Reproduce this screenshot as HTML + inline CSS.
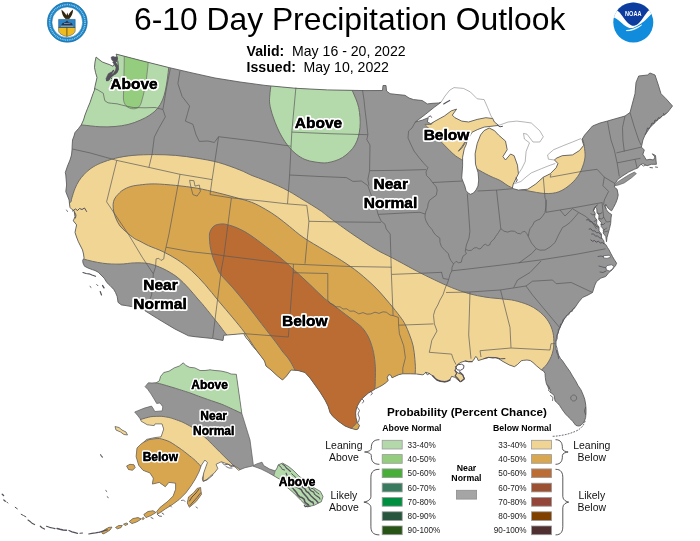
<!DOCTYPE html>
<html><head><meta charset="utf-8"><title>6-10 Day Precipitation Outlook</title>
<style>html,body{margin:0;padding:0;background:#fff}svg{display:block;will-change:transform}text{font-family:"Liberation Sans",sans-serif}.lb{font-weight:bold;font-size:15.5px;fill:#000;stroke:#fff;stroke-width:4px;paint-order:stroke;stroke-linejoin:round;text-anchor:middle}.la{font-weight:bold;font-size:12px;fill:#000;stroke:#fff;stroke-width:3.3px;paint-order:stroke;stroke-linejoin:round;text-anchor:middle}.lb2{font-weight:bold;font-size:15.5px;fill:#000;stroke:#000;stroke-width:.35px;text-anchor:middle}.la2{font-weight:bold;font-size:12px;fill:#000;stroke:#000;stroke-width:.3px;text-anchor:middle}.st{fill:none;stroke:#5a5a5a;stroke-width:.7;stroke-linejoin:round}.rb{fill:none;stroke:#6f6d6b;stroke-width:.7}</style></head><body>
<svg width="700" height="541" viewBox="0 0 700 541">
<rect width="700" height="541" fill="#fff"/>
<defs>
<clipPath id="us"><path d="M96.1,57 L99,59.5 L102.2,61.9 L106,63.4 L109.3,64.5 L113,66.3 L114.8,63.5 L116.8,61 L117.4,57.7 L116.1,54.1 L140,60.3 L168.7,67.5 L192,72.9 L215,78 L240,82 L265,85.4 L296,88.3 L327.5,89.9 L365,90.6 L382.5,90.5 L383,85.5 L386,85.5 L386.5,91 L390,93.7 L397,94.5 L405,95.3 L409,98 L413.6,99.6 L422.2,100.5 L427.3,103.9 L433,103.3 L438.5,103 L441.1,102.2 L434.2,107.3 L425.6,114.2 L418.8,119.4 L415.3,122 L422.2,120.2 L428.2,117.7 L427.3,122 L430.8,123.7 L435.1,121.1 L444.5,115.9 L451.4,110.8 L456.6,109.1 L452.3,115.1 L454.9,117.7 L461.7,121.1 L468.6,122 L477.2,119.4 L485.8,117.7 L492.7,118.5 L494.4,122 L498.7,125.4 L491,126.3 L484.1,127.1 L477.2,129.7 L472,132.3 L469.5,136.6 L465.2,141.7 L461.7,146.9 L458.3,151.2 L461.5,148.5 L465.5,142.5 L467.5,139.5 L466,145 L464.3,148.6 L462.6,157.2 L462.6,165.8 L461.7,178 L462.8,181 L464.8,186 L466,190.5 L468,193 L470.5,194.3 L473.5,193 L476,190 L478,186 L478.7,180 L478.1,172.7 L475.5,164.1 L475.1,153.8 L477.2,143.5 L480.6,134.9 L484.1,130.6 L489.2,128 L494.4,130.6 L498.6,135.1 L505.5,141.1 L507.2,149.7 L502.9,156.6 L505.5,160 L510.6,154 L514.1,155.7 L517.5,165.2 L518.4,173.8 L515.8,178.9 L513.2,184.1 L512.3,188.4 L518.4,190.1 L527.8,189.2 L535.6,184.1 L543.3,177.2 L550.2,173.8 L556.2,167.7 L557.9,163.5 L554.5,160 L556.2,158.3 L562.2,155.7 L572.5,154.9 L579.4,150.6 L583.7,145.4 L582,139.4 L584.6,135.1 L592.5,126 L600,123 L607.5,121 L625,116 L630,112.5 L632,105 L635,93.7 L636,82.5 L638.7,76 L647.5,75 L650,73 L655,75 L658,84 L661,93.7 L666,98.7 L672.5,106 L667.5,112.5 L662,116 L657.5,120 L650,127.5 L645,135 L642.9,140 L641.4,147.1 L644.3,150 L642.9,154.3 L646.4,160 L650,159.3 L653.5,160 L655,157 L652.3,153.8 L655.5,155.5 L656.4,164.3 L651.4,164.3 L647.1,165.7 L642.9,163.6 L640,165 L637.9,167.9 L634.3,169.3 L628.6,172.1 L622.9,175.7 L617.9,179.3 L615,183.6 L614.3,187.1 L617.1,189.3 L618.2,195 L617.3,199 L615.7,203.3 L613.5,207.5 L611.6,210.8 L609.5,209.5 L607.3,207 L605.8,204.3 L605.2,206.5 L606.3,209.5 L608,212 L610,213.5 L611.6,214.5 L611,218 L610.7,223.3 L609.5,228.5 L608.2,233.2 L607,237.5 L606.5,241.8 L605.8,236.5 L603.2,233 L603.8,229.5 L601.2,226.5 L601.3,222.5 L598.8,219.5 L599,215 L597,212.5 L596.8,208.8 L595.2,207.2 L593.6,210.5 L595.2,213.5 L594.6,217 L596.8,220 L596.6,224 L599,227 L599,231 L601.4,234 L601.6,238 L603.6,240.5 L604.3,243.5 L605.7,244.5 L607.5,247.5 L609.1,250 L610.7,253.2 L612.5,256.5 L614.1,259.3 L616.6,263.2 L615.5,265.7 L614.1,267.3 L612,270 L609.1,272.3 L605.7,276.5 L600.8,278.1 L596.6,281.5 L594.9,285 L592.5,292.5 L588,295 L582.5,297.5 L578.7,302 L575,307.5 L570,312 L565,317.5 L560,327.5 L557.5,334 L556,340 L556,350 L557.5,350.5 L558.5,355 L560.5,358.5 L562.5,360.8 L566,366 L569.9,371.4 L572.5,376 L575.5,380.7 L578,385.5 L581,389.9 L583,394.5 L584.7,399.1 L585.6,404 L586,408.4 L586,413 L585.6,417.6 L584.5,421 L582.8,423.4 L581,425.2 L579.1,426 L577,425.8 L575.5,425 L572.7,421.3 L570.5,419 L568.1,416.7 L565.5,414 L563.4,411.2 L561.5,408.5 L559.7,405.6 L557.5,403 L555.1,401 L554.5,398 L554.2,395.5 L552,393.5 L549.6,391.8 L550.6,389.5 L548.5,388.5 L547.7,386.2 L546.5,384 L545.9,381.6 L545.3,377.5 L545,373.3 L543.5,371 L541.3,369.8 L536.6,365.9 L533,362.5 L530.2,360.5 L527,360 L523.7,360.3 L521.3,360.8 L517.5,364.5 L514.4,366.7 L509.2,364.9 L503,361.5 L498.9,358.9 L495,357.5 L488.6,357.4 L484,358.8 L480,360 L478.2,360.5 L477,357.5 L475.6,356.6 L474.3,359 L472.2,361.6 L468.5,361.5 L465.3,361 L461,362.3 L457.6,364.4 L456,367.5 L455,370.4 L458,373 L462.7,374.7 L464.5,379 L460.2,381.8 L457,379.2 L455,377.3 L451.6,376.4 L449.9,379.9 L447.5,381.2 L444.7,381.8 L440.5,381.2 L437,380 L434.5,377.7 L432.7,375.8 L429,373.4 L425.8,372.3 L424,374.3 L422.3,374.8 L416.6,374 L410.3,373.8 L402.8,373.8 L399,374.6 L396,375.9 L392,377.8 L390.8,375.2 L388.8,374.6 L387.2,377.5 L388.2,380.5 L385.5,383 L382.2,385.3 L378.5,387.3 L375.3,388.8 L372,391 L368.4,393.1 L365,396 L361.6,399.1 L359.3,402.5 L357.3,406 L356.2,409.5 L355.6,413 L356,418 L357.5,423 L359.5,425.5 L358,429 L356,429.7 L350,428 L345,426 L338,421 L332.5,416 L330,412.5 L328,406 L325,400 L320,392 L315,385 L310,378 L305,372.5 L298,370.5 L291,370 L286.5,376 L282.5,380 L277.5,376 L271,370 L266,366 L264.5,361 L260.8,356 L256.5,350.5 L252.2,345.6 L249,341 L246.2,337.9 L243.6,333.6 L223.8,335.3 L223,340.5 L212.5,338.5 L195,336.7 L188.5,335.8 L174.7,328.9 L157.5,318.6 L143.8,310 L137,307.8 L131.7,306.6 L126,305.6 L121.4,304.9 L118,302.3 L117.6,299 L117.1,296.3 L115.5,292.5 L113.7,289.4 L110,285.5 L106.8,282.5 L104.2,278.2 L101,275 L98.2,272.2 L95,270.5 L92.2,269.6 L88,268 L84.5,266.2 L83,263 L82.7,260.2 L84.1,258.2 L83.5,254 L82.5,249.9 L80.5,246 L78.3,241.6 L76.5,237 L75,232.4 L75.8,228.5 L76.6,224.9 L73.3,220.8 L75,216.6 L74.1,210.8 L72,209.5 L70,207.4 L69.5,204 L69.1,200 L67.5,196 L65.8,191.6 L66.6,185 L65.8,175 L65.3,172.5 L67.5,166 L70,160 L71.5,155 L72,150 L72.2,145 L72.5,140 L74,136 L75,132.5 L78.5,128.5 L81.2,125 L83.5,120 L85,115 L87.5,108.5 L90,102.5 L91.5,98 L93,93.7 L94.5,90 L95,86.2 L96,82 L97,77.5 L95.5,72.5 L94.5,67.5 L95,62Z"/><path d="M615.7,183.6 L618,181.7 L622.9,178.6 L628.6,175 L634.3,172.1 L636.4,173.6 L631.4,177.9 L624.3,182.9 L618.6,185 L615,185.7Z"/></clipPath>
<clipPath id="ak"><path d="M148.3,382.8 L152,383 L156.1,382.8 L159.3,380.9 L160.6,376.4 L163.8,372.5 L169,371.2 L174.2,367.9 L179.4,366 L183.3,362.8 L185.8,365.4 L189.7,367.3 L194.9,367.9 L200.1,370.5 L205,370.5 L210,369.8 L215,370.5 L221,371 L227.5,372.5 L231,374 L236.3,374.3 L241.8,413.4 L250,440 L253.4,465.6 L256.8,463.9 L262,462.2 L263.7,465.6 L269.7,469.1 L274.9,470.8 L276.6,469.1 L278.3,464.8 L282.6,463.1 L288.6,466.5 L293.8,470.8 L298.9,475.9 L305.8,482 L314.4,488 L320.4,491.4 L323,496.6 L321.3,501.7 L314.4,505.2 L307.5,506.9 L300.6,500 L293.8,493.1 L286.9,487.1 L280,479.4 L274,475.9 L268,472.5 L261.1,469.1 L257,467.5 L252.5,466 L245,467.7 L238.5,470.3 L235,466.9 L228.1,464.3 L221.3,461.7 L216.1,464.3 L217.8,468.6 L214.4,472.9 L210,476.4 L207.5,478.9 L203.1,481.5 L202.3,478.9 L204,472.1 L207.4,462.6 L204.9,460 L201.4,465.2 L198.9,472.1 L195.4,478.9 L191.1,485.8 L186,492.7 L179.1,499.6 L172.2,504.7 L165.3,509 L157.6,514.2 L156.7,511.6 L160.2,507.3 L167.9,501.3 L173.1,496.1 L175.6,489.3 L175.6,483.2 L168.8,482.4 L165.3,486.7 L159.3,482.4 L152.4,484.1 L153.3,478.1 L149.9,472.9 L143,470.3 L138.7,465.2 L136.1,456.6 L137,448 L140.5,444.5 L143.9,442 L146.5,439.4 L154.2,437.7 L161.1,436.8 L163.7,429.1 L162,423.9 L155.1,423.9 L154.2,425.6 L147.3,424.8 L141.3,421.3 L139.9,418.4 L137.9,415.8 L134.7,412 L137.9,410.7 L144.4,408.1 L151.5,406.1 L153.2,408.5 L154.8,411.5 L162.2,410.9 L162.8,406.8 L160,402.9 L156.7,403.5 L154.1,399 L150.9,393.8 L147.7,389.3 L145.1,386.7Z"/><path d="M200.6,487.5 L201.4,494.4 L196.3,501.3 L189.4,507.3 L187.3,503 L188.5,497 L193.7,492.7 L197.1,488.4Z"/><path d="M115,426.5 L119,427.5 L122,430 L126,432 L127.5,435 L124,434.5 L120.5,432 L116,430Z"/><path d="M126.6,466 L130,464.3 L134,464.8 L135.2,467.5 L132.5,470.3 L128.5,469.5Z"/><path d="M143.8,514.5 L148,511.5 L153,510.7 L155.9,512.5 L151,515.5 L146,517.6Z"/><path d="M129.2,521.5 L133,518.5 L138,517.6 L141.3,519 L137,521.8 L132,523.6Z"/><path d="M115.5,527.5 L118.5,525.6 L122.3,525.4 L121,527.6 L117.5,528.8Z"/><path d="M101.7,532.5 L105,529.5 L109,527.3 L112,527.1 L110,530 L106,532.6 L103,534Z"/><path d="M123.5,524.2 L126.5,523 L128,524 L125.5,525.5Z"/><path d="M141.8,518.6 L143.3,517.4 L144.3,518.6 L142.8,519.6Z"/></clipPath>
</defs>
<g clip-path="url(#us)">
<rect x="50" y="40" width="640" height="400" fill="#959595"/>
<path d="M60,212 C62.7,207.1 68.3,204.8 70.3,202.5 C72.3,200.2 71,200.3 71.8,198 C72.6,195.7 73.8,191.3 75,188.5 C76.2,185.7 77.3,183.3 78.8,181 C80.3,178.7 82,176.6 84,174.5 C86,172.4 88.2,170.2 91,168.3 C93.8,166.4 96.6,164.8 100.7,163.1 C104.8,161.4 110.3,159.5 115.7,158.2 C121.1,156.9 126.5,156 132.9,155.4 C139.3,154.8 147.2,154.6 154.3,154.6 C161.4,154.6 168.6,154.8 175.7,155.4 C182.8,156 189.9,157 197.1,158.2 C204.2,159.4 211.4,160.5 218.6,162.5 C225.8,164.5 234.4,167.8 240,170 C245.6,172.2 247.8,173.8 252,175.5 C256.2,177.2 261.1,178.8 265.3,180.5 C269.5,182.2 273.4,183.7 277.4,185.5 C281.4,187.3 285.1,189.1 289.4,191.5 C293.7,193.9 298,196.7 303.1,199.8 C308.2,202.9 315.5,207.3 320,210.3 C324.5,213.3 324.5,214 330,218 C335.5,222 345.3,229.2 352.9,234.4 C360.5,239.6 369.6,245.6 375.8,249.3 C382,253 386.2,254.7 390.2,256.8 C394.2,258.9 395.5,259.6 400,262 C404.5,264.4 411.5,268.3 417.2,271.3 C422.9,274.3 428.7,277.1 434.4,279.8 C440.1,282.5 445.9,285.3 451.6,287.6 C457.3,289.9 463.1,292 468.8,293.6 C474.5,295.2 480.3,296.3 486,297.2 C491.7,298.1 498.4,298.4 503.1,299 C507.8,299.6 510.2,299.5 514.4,300.5 C518.6,301.5 524.1,303.1 528.1,304.8 C532.1,306.5 535.2,308.4 538.4,310.8 C541.5,313.2 544.7,316.2 547,319.4 C549.3,322.5 551.1,326 552.2,329.7 C553.4,333.4 553.9,337.7 553.9,341.7 C553.9,345.7 553.4,350.1 552.2,353.8 C551.1,357.5 548.9,361.3 547,364.1 C545.1,366.9 543.8,367.2 541,370.4 C538.2,373.5 536.8,378.4 530,383 C523.2,387.6 515,394.3 500,398 C485,401.7 460,399.7 440,405 C420,410.3 403.3,427.5 380,430 C356.7,432.5 320.8,430 300,420 C279.2,410 265.5,382.2 255,370 C244.5,357.8 241.9,353.1 237,347 C232.1,340.9 228.8,337.4 225.7,333.6 C222.6,329.8 222.2,328.8 218.6,324.3 C215,319.8 207.9,310.8 204.3,306.4 C200.7,302 199.6,301 197,298 C194.4,295 191.9,291.7 188.6,288.2 C185.3,284.7 181.4,280.4 177.1,277.1 C172.8,273.8 167.7,270.9 162.9,268.6 C158.2,266.4 153.4,264.6 148.6,263.6 C143.8,262.7 139.1,262.8 134.3,262.9 C129.5,263 125.3,264.1 120,264.1 C114.7,264.2 108.8,264.1 102.5,263.2 C96.2,262.3 88.6,260.6 82.5,258.7 C76.4,256.8 70.8,256.4 66,252 C61.2,247.6 55,238.7 54,232 C53,225.3 57.3,216.9 60,212Z" fill="#f1d594" stroke="#6f6d6b" stroke-width="1"/>
<path d="M113.1,204.5 C113.2,202.3 113.7,200.7 114.5,199 C115.3,197.3 116.7,195.9 117.9,194.6 C119.1,193.3 120.1,192.1 121.5,191 C122.9,189.9 124.7,189 126.4,188.2 C128.2,187.4 129.8,186.7 132,186.2 C134.2,185.7 135.6,185.4 139.3,185 C143,184.6 148.2,183.8 154.3,183.9 C160.4,184 168.6,184.7 175.7,185.4 C182.8,186.1 190.2,187 197.1,188.2 C204,189.4 211,191.2 217.2,192.7 C223.4,194.2 228.7,195.6 234.4,197.2 C240.1,198.8 246.4,200.3 251.6,202.3 C256.8,204.3 261,206.8 265.3,209.2 C269.6,211.6 273.4,214.1 277.4,217 C281.4,219.9 285.1,223 289.4,226.4 C293.7,229.8 297.3,233.3 303.1,237.3 C308.9,241.3 318,246.4 324.4,250.3 C330.8,254.2 335.9,256.9 341.6,260.6 C347.3,264.3 353.1,268.1 358.8,272.7 C364.5,277.3 370.9,283 376,288.1 C381.1,293.2 385.7,298.9 389.7,303.6 C393.7,308.3 397.4,313 400,316.5 C402.6,320 403.6,321.4 405.2,324.5 C406.8,327.6 408.3,331.4 409.6,335 C410.9,338.6 412.2,341.7 413.1,345.8 C414,349.9 414.5,354.9 414.9,359.5 C415.2,364.1 415.7,368.2 415.2,373.3 C414.7,378.4 415.4,383.9 412,390 C408.6,396.1 403.7,403 395,410 C386.3,417 374.2,429.5 360,432 C345.8,434.5 324.2,432.8 310,425 C295.8,417.2 283.2,396.2 275,385 C266.8,373.8 264.7,364.7 261,358 C257.3,351.3 255.7,349.3 252.9,345 C250.1,340.7 247.6,336.6 244.3,332.1 C241,327.6 237.2,323.1 232.9,317.9 C228.6,312.7 223.2,306.6 218.6,301 C213.9,295.4 209.5,289.6 205,284.5 C200.5,279.4 196.1,274.7 191.4,270.5 C186.8,266.3 181.8,262.6 177.1,259.5 C172.3,256.4 167.7,253.9 162.9,251.6 C158.2,249.3 152.5,247.5 148.6,245.7 C144.7,243.9 141.7,242.1 139.3,240.9 C136.9,239.7 136.5,239.9 134.3,238.4 C132.2,236.9 128.8,234.2 126.4,232.1 C124,230 121.7,228.2 120,226 C118.3,223.8 117.2,221.3 116.2,219 C115.2,216.7 114.3,214.4 113.8,212 C113.3,209.6 113,206.7 113.1,204.5Z" fill="#d9a650" stroke="#6f6d6b" stroke-width="1"/>
<path d="M209.4,236.7 C209.3,234.2 209.6,233.4 210,232 C210.4,230.6 211.3,229.1 212,228.1 C212.7,227.1 213.4,226.4 214.3,225.8 C215.2,225.2 216.1,224.9 217.2,224.6 C218.3,224.3 219.6,224.1 221,224 C222.4,223.9 223.6,223.8 225.8,224.3 C228,224.8 231.2,225.6 234.4,226.8 C237.6,228 241.3,229.7 244.7,231.6 C248.1,233.5 251.6,236 255,238.4 C258.4,240.8 261.9,243.6 265.3,246.2 C268.7,248.8 272.2,251.2 275.6,253.9 C279.1,256.6 283.1,260 286,262.5 C288.9,265 290.6,266.8 293,269 C295.4,271.2 297.1,272.5 300.3,275.5 C303.5,278.5 308.3,283 312.3,286.8 C316.3,290.6 320.1,294.7 324.4,298.4 C328.7,302.1 333.5,305.3 338.1,308.8 C342.7,312.3 348.6,316.8 351.9,319.3 C355.2,321.8 356.1,322.4 358,324 C359.9,325.6 361.4,326.5 363.3,329 C365.2,331.5 367.6,334.9 369.3,338.9 C371,342.8 372.6,348.1 373.6,352.7 C374.6,357.3 375,362.1 375.3,366.4 C375.6,370.7 375.5,374.1 375.3,378.4 C375.1,382.7 375.6,386.7 374,392 C372.4,397.3 370.8,403.3 366,410 C361.2,416.7 352.7,430.3 345,432 C337.3,433.7 327.5,428.7 320,420 C312.5,411.3 305,389.8 300,380 C295,370.2 292.9,365.7 290,361 C287.1,356.3 285.3,355.1 282.9,352 C280.5,348.9 279.3,346.8 275.7,342.1 C272.1,337.4 266.2,329.8 261.4,323.6 C256.6,317.4 251.8,310.9 247.1,305 C242.3,299.1 237.3,293 232.9,287.9 C228.5,282.8 223.3,277.9 220.7,274.5 C218,271.1 218.3,270.4 217,267.5 C215.7,264.6 214,260.8 212.9,257.4 C211.8,254 210.9,250.4 210.3,247 C209.7,243.6 209.5,239.2 209.4,236.7Z" fill="#bb6c33" stroke="#6f6d6b" stroke-width="1"/>
<path d="M70,124.5 C74.5,127.8 77,124.6 82,125 C87,125.4 94.5,126.5 100,126.8 C105.5,127 110.3,126.9 115,126.5 C119.7,126.1 123.8,125.5 128,124.5 C132.2,123.5 136.3,121.9 140,120.3 C143.7,118.7 147.1,117 150,115 C152.9,113 155.4,111 157.5,108.5 C159.6,106 161.2,103.1 162.5,100 C163.8,96.9 164.7,93.7 165.5,90 C166.3,86.3 167,81.8 167.5,78 C168,74.2 168.4,71.3 168.7,67.5 C169,63.7 170.1,60.4 169.5,55 C168.9,49.6 176.6,40 165,35 C153.4,30 118.3,20.8 100,25 C81.7,29.2 62.5,46.7 55,60 C47.5,73.3 52.5,94.2 55,105 C57.5,115.8 65.5,121.2 70,124.5Z" fill="#b4d9ab" stroke="#6f6d6b" stroke-width="1"/>
<path d="M124.4,45 L124.2,65 L123.4,98 C123.4,104.5 127.5,108.8 133.5,108.8 C138,108.8 140.4,106.5 141.7,101 L143.6,94 L146.3,80 L148,65 L148.8,45Z" fill="#94cd7e" stroke="#6f6d6b" stroke-width=".7"/>
<path d="M271.2,84 C270.5,88.2 270.1,91.8 269.8,95 C269.5,98.2 269.4,100.5 269.6,103 C269.8,105.5 270.4,107.5 271,110 C271.6,112.5 272.5,115.2 273.5,118 C274.5,120.8 275.6,123.8 277,127 C278.4,130.2 280.1,133.8 282,137 C283.9,140.2 286.2,143.7 288.5,146.5 C290.8,149.3 293.2,151.8 296,154 C298.8,156.2 301.8,158.2 305,159.5 C308.2,160.8 311.2,161.5 315,162 C318.8,162.5 322.9,163.4 327.5,162.7 C332.1,161.9 337.9,160.4 342.5,157.5 C347.1,154.6 352.1,150 355,145 C357.9,140 359.4,133.8 360,127.5 C360.6,121.2 359.9,113.6 358.7,107.5 C357.4,101.4 354.6,96.2 352.5,91 C350.4,85.8 349.8,81.8 346,76 C342.2,70.2 339.3,59.3 330,56 C320.7,52.7 299.3,53.7 290,56 C280.7,58.3 277.1,65.3 274,70 C270.9,74.7 271.9,79.8 271.2,84Z" fill="#b4d9ab" stroke="#6f6d6b" stroke-width="1"/>
<path d="M425,124.6 C425.1,124.2 427,124.5 428,124.4 C429,124.3 430.3,124.7 431.2,124.2 C432.1,123.7 432.6,122.8 433.3,121.5 C434,120.2 434.5,118.7 435.5,116.5 C436.5,114.3 437.1,111.8 439.5,108.5 C441.9,105.2 443.2,100.1 450,97 C456.8,93.9 468.3,90.7 480,90 C491.7,89.3 507.5,90.3 520,93 C532.5,95.7 546,100.8 555,106 C564,111.2 569.5,118.7 574,124 C578.5,129.3 580.2,133.9 582,138 C583.8,142.1 584.2,145.1 584.6,148.8 C585,152.5 585.5,155.8 584.6,160 C583.7,164.2 581.7,169.8 579.4,173.8 C577.1,177.8 574.2,181.1 570.8,184.1 C567.4,187.1 563.1,190.2 558.8,191.8 C554.5,193.4 550.2,193.7 545,193.5 C539.8,193.3 533.4,191.8 527.8,190.8 C522.2,189.8 516.1,189.2 511.5,187.5 C506.9,185.8 503.7,182.4 500.3,180.6 C496.9,178.8 494.6,178.2 491,176.5 C487.4,174.8 483.8,172.9 478.9,170.1 C474,167.3 466,162.5 461.7,159.8 C457.4,157.1 456.8,157.1 453.1,153.8 C449.4,150.5 442.9,143.6 439.4,140 C435.9,136.4 434,134.2 432,132 C430,129.8 428.5,128 427.3,126.8 C426.1,125.6 424.9,125 425,124.6Z" fill="#f1d594" stroke="#6f6d6b" stroke-width="1"/>
</g>
<path d="M441.1,102.2 L445,96 L449.7,90.2 L454,87.6 L463.4,88.4 L470.3,91.9 L477.2,98.8 L484.1,99.6 L487.5,107.3 L491,115.9 L492.7,118.5" fill="none" stroke="#6a6a6a" stroke-width=".5"/>
<path d="M498.7,125.4 L508.1,122 L516.7,121.1 L524.4,122 L531.3,123 L539.8,130.8 L543.3,136.8 L539.8,142 L533,142 L527,134.2 L523.5,133.4 L524.4,139 L529.5,142.8 L526.1,151.4 L525.2,161.7 L521.8,168.6 L518.4,173.8" fill="none" stroke="#6a6a6a" stroke-width=".5"/>
<path d="M513.2,184.1 L520.9,181.5 L526,177 L531.3,172.9 L541.6,168.6 L550.2,165.2 L555.3,163.5" fill="none" stroke="#6a6a6a" stroke-width=".5"/>
<path d="M554.5,160 L548.4,159.2 L547.6,154.9 L553.6,149.7 L563.9,145.4 L572.5,142 L581.1,138.5" fill="none" stroke="#6a6a6a" stroke-width=".5"/>
<path class="st" d="M94.1,88.3 L98,90 L103.3,93.3 L104,97 L104.9,100.8 L108,102.8 L111.6,103.3 L117,103.8 L121.6,105 L128,106.5 L133.2,107.5 L145,107.8 L155,107.5 L162.9,109.5"/>
<path class="st" d="M170.4,68.3 L166.5,88 L162.9,109.5"/>
<path class="st" d="M162.9,109.5 L165.4,116.8 L158.6,128.6 L154.3,137.1 L152.1,154.3 L148.9,167.4"/>
<path class="st" d="M72.3,149 L90,152.9 L116.8,160.4 L148.9,167.4 L180,174.3 L212.1,179.6"/>
<path class="st" d="M116.8,160.4 L106.6,201.8 L128.9,235 L142.2,257.2 L153.3,273.8"/>
<path class="st" d="M153.3,273.8 L152.7,283.8 L151.6,295 L148.5,303 L145,310"/>
<path class="st" d="M153.3,273.8 L155.5,267.2 L156.1,258.9 L158.8,258.3 L161,260.5 L163.8,258.9 L164.4,253.9 L166,247.2"/>
<path class="st" d="M180,174.3 L168.8,235 L166,247.2"/>
<path class="st" d="M166,247.2 L190,251.6 L215,254.3 L223.9,255.8 L260,260.3 L293.4,264.1 L350,266.5 L391.6,267.2"/>
<path class="st" d="M180,70.7 L177.9,83.6 L182.1,96.4 L189.6,106.1 L187.5,113.6 L185.4,121.1 L192.9,124.3 L196.1,135 L199.3,141.4 L207.9,141 L214.3,142.5 L218.6,136.7"/>
<path class="st" d="M218.6,136.7 L257.1,141.4 L290.9,146.2"/>
<path class="st" d="M218.6,136.7 L212.1,179.6 L210,194.6 L231.4,197.9"/>
<path class="st" d="M231.4,197.9 L260,200.8 L287.5,203.9 L306.8,205.4"/>
<path class="st" d="M231.4,197.9 L223.9,255.8 L221.3,270 L212.7,338"/>
<path class="st" d="M295.9,87.5 L291.8,132.1 L289.6,175 L287.5,203.9"/>
<path class="st" d="M291.8,132.1 L330,133.7 L367.9,134.7"/>
<path class="st" d="M362.5,90 L364,100 L365,110 L366.5,122 L367.9,134.7"/>
<path class="st" d="M367.9,134.7 L366.8,139.6 L370,145 L369.6,170.7"/>
<path class="st" d="M369.6,170.7 L400,170.3 L426,169.6"/>
<path class="st" d="M369.6,170.7 L367.9,179.3 L368.9,185.7"/>
<path class="st" d="M289.6,175 L320,176.5 L346.4,177.6 L352.9,181.4 L361.4,181 L367.9,185.7 L370,192.1"/>
<path class="st" d="M370,192.1 L374.3,202.9 L377,210 L378.1,214.6 L381,220.9 L385,224.3 L386.2,228.9 L390.2,234.1"/>
<path class="st" d="M390.2,234.1 L390.8,253 L391.4,274.4 L393.1,315.6"/>
<path class="st" d="M393.1,315.6 L398.3,317.4 L398.6,325.2 L399.4,333.8 L403.7,345.8 L405.4,357.8 L402.8,368.1 L402.8,373.6"/>
<path class="st" d="M308.9,221.3 L345,222 L381,222.3"/>
<path class="st" d="M306.8,205.4 L308.9,221.3 L305,263.7"/>
<path class="st" d="M293.4,264.1 L293.2,272.7 L327.8,273.5 L327.8,300.2 L330,303.3 L333,304.5 L336,306.8 L340,306.8 L343,309 L346.7,308.8 L350,311.2 L354,311 L358.8,313.9 L363,312.6 L367,314.2 L370.8,313.9 L375,312.2 L379,313.4 L383,311.8 L386.3,312.2 L390,315 L393.1,315.6"/>
<path class="st" d="M293.2,272.7 L288.3,337 L243.6,333.6"/>
<path class="st" d="M378.1,214.4 L410,212.7 L420,212.3 L425.2,214.1"/>
<path class="st" d="M415.3,122 L412,128 L408.6,131 L408,138 L410.7,144 L414,151 L419.3,157.9 L424,163.5 L427.9,167.5 L426,172 L426.5,175.5 L430,179 L432.5,182.5 L436,186.5 L437.2,190 L436.3,195.2 L432.5,198 L429.5,200.3 L428,204 L427.7,207.2 L426,211 L425.2,214.1 L425,217.5 L426,220.9 L428.5,225.5 L432,229.5 L434,233 L436.3,235.6 L439.8,238.1 L440,242.5 L441.5,246.7 L445,250.5 L448.4,253.6 L449.3,257.2 L450.9,260.5 L453.5,263.9 L452,267.5 L451.8,270.8 L450,274.5 L449.2,277.7 L447.5,283 L445.6,287 L443,294.7 L440,300 L437.8,305 L435,310 L433.5,315.3 L434.4,323.9 L437,331 L431.8,340.3 L430.1,348.9 L429.2,352.3"/>
<path class="st" d="M429.2,352.3 L451.6,354.1 L453.3,359.2 L456,364.6"/>
<path class="st" d="M432.5,182.5 L462.5,181"/>
<path class="st" d="M467.3,193.5 L469.9,231.3 L469,238.1 L467.5,242 L466.4,245 L465.6,249.3"/>
<path class="st" d="M453.5,263.9 L456.1,261.3 L458.5,262.8 L461.3,262.2 L462,259 L463,256.2 L466.4,253.6 L465.3,251.3 L465.6,249.3 L468.5,250.6 L471.6,250.2 L474,248 L476.7,247.6 L479,249 L481,248.4 L483,245.6 L485.3,244.2 L487.5,245.6 L489.6,245 L490.6,242.5 L492.2,240.7 L494.2,239 L495.6,236.4 L498.5,232.5 L500.8,228.7 L504,231.2 L507.7,232.1 L511,231 L514.6,231.3 L517.5,233.3 L520.6,233.8 L522.5,232 L524.9,231.3 L526.7,233.5 L528.3,236.4 L529,232 L530,228.7 L532.5,225.5 L534.3,221.8 L537.5,220 L540,219.2 L543,215.5 L545,212.5 L546,206 L546,200 L545,198"/>
<path class="st" d="M528.3,236.4 L530,240 L531.7,243.3 L534,246 L536.2,248.7"/>
<path class="st" d="M496.5,190 L500.8,228.7"/>
<path class="st" d="M477.5,191 L497.5,190 L512.5,188.7"/>
<path class="st" d="M451.8,270.8 L467.3,269.1 L500,265.2 L540,260 L575,254.5 L605.5,248.8"/>
<path class="st" d="M441.5,272.2 L443.2,278.5 L448.4,279.4"/>
<path class="st" d="M391.4,274.4 L420,273.3 L442.1,272.3"/>
<path class="st" d="M398.6,325.2 L433.5,323.9"/>
<path class="st" d="M446,292.5 L470,292 L500,290 L526,286"/>
<path class="st" d="M470,292.2 L468.7,335 L471,358.7"/>
<path class="st" d="M500.5,290 L510,327.5 L511,347.8"/>
<path class="st" d="M481,357 L480,350.7 L511,348 L550,350 L551,343.7 L555.5,343.7"/>
<path class="st" d="M541,261 L530,272.5 L517.5,280 L513.7,287.5"/>
<path class="st" d="M526,286 L532.5,295 L545,310 L555,322 L560,328"/>
<path class="st" d="M526,286 L532.5,281.2 L552.5,280 L556.2,283.7 L571.2,282.5 L592.5,292.5"/>
<path class="st" d="M536.2,248.7 L540,250.2 L545,250 L550,247 L555,242.5 L558.5,235 L562.5,227.5 L566,225.5 L570,222.5 L574.5,217.5 L578.7,212.5"/>
<path class="st" d="M536.2,248.7 L531.7,253.6 L525,258.5 L518.8,263.1"/>
<path class="st" d="M546,200 L546,212.3 L575,207.5 L602.5,202.5"/>
<path class="st" d="M560,210 L565,216 L572.5,208.7 L578.7,212.5 L585,216 L590,220 L594,225 L596.5,229"/>
<path class="st" d="M551,174 L550.2,177.2 L582.8,171.2 L597.1,169.3 L604.3,177.1"/>
<path class="st" d="M604.3,177.1 L602.9,185.7 L608.6,191.4 L604.3,200 L603.6,204.3 L606.4,208.6"/>
<path class="st" d="M604.3,177.1 L615,183.6"/>
<path class="st" d="M607.5,121 L609,130 L611,140 L614.3,150 L617.1,162.9 L619.3,176.4"/>
<path class="st" d="M625,116 L622.5,127.5 L622.9,140 L624.3,151.4"/>
<path class="st" d="M630,112.5 L634,126 L638.7,140 L641,145"/>
<path class="st" d="M616.4,152.9 L641.4,147.1"/>
<path class="st" d="M617.1,162.9 L635,159.3 L640.5,158.3"/>
<path class="st" d="M635,159.3 L637.1,167.9"/>
<path class="st" d="M602.1,202.9 L603.6,217 L606.5,222 L610.3,221.5"/>
<path class="st" d="M543.3,177.2 L545,198"/>
<path class="st" d="M604,232 L608,231"/>
<path class="st" d="M189.6,180.3 L190.7,186.1 L192.9,194.6 L197.1,196.1 L200.4,191.4 L199.3,185 L195,186.1 L193.9,180.7 L189.6,180.3"/>
<path class="st" d="M576.7,398 L576.5,399.1 L575.8,400.1 L574.8,400.8 L573.7,401 L572.6,400.8 L571.6,400.1 L570.9,399.1 L570.7,398 L570.9,396.9 L571.6,395.9 L572.6,395.2 L573.7,395 L574.8,395.2 L575.8,395.9 L576.5,396.9 L576.7,398"/>
<path d="M96.1,57 L99,59.5 L102.2,61.9 L106,63.4 L109.3,64.5 L113,66.3 L114.8,63.5 L116.8,61 L117.4,57.7 L116.1,54.1 L140,60.3 L168.7,67.5 L192,72.9 L215,78 L240,82 L265,85.4 L296,88.3 L327.5,89.9 L365,90.6 L382.5,90.5 L383,85.5 L386,85.5 L386.5,91 L390,93.7 L397,94.5 L405,95.3 L409,98 L413.6,99.6 L422.2,100.5 L427.3,103.9 L433,103.3 L438.5,103 L441.1,102.2 L434.2,107.3 L425.6,114.2 L418.8,119.4 L415.3,122 L422.2,120.2 L428.2,117.7 L427.3,122 L430.8,123.7 L435.1,121.1 L444.5,115.9 L451.4,110.8 L456.6,109.1 L452.3,115.1 L454.9,117.7 L461.7,121.1 L468.6,122 L477.2,119.4 L485.8,117.7 L492.7,118.5 L494.4,122 L498.7,125.4 L491,126.3 L484.1,127.1 L477.2,129.7 L472,132.3 L469.5,136.6 L465.2,141.7 L461.7,146.9 L458.3,151.2 L461.5,148.5 L465.5,142.5 L467.5,139.5 L466,145 L464.3,148.6 L462.6,157.2 L462.6,165.8 L461.7,178 L462.8,181 L464.8,186 L466,190.5 L468,193 L470.5,194.3 L473.5,193 L476,190 L478,186 L478.7,180 L478.1,172.7 L475.5,164.1 L475.1,153.8 L477.2,143.5 L480.6,134.9 L484.1,130.6 L489.2,128 L494.4,130.6 L498.6,135.1 L505.5,141.1 L507.2,149.7 L502.9,156.6 L505.5,160 L510.6,154 L514.1,155.7 L517.5,165.2 L518.4,173.8 L515.8,178.9 L513.2,184.1 L512.3,188.4 L518.4,190.1 L527.8,189.2 L535.6,184.1 L543.3,177.2 L550.2,173.8 L556.2,167.7 L557.9,163.5 L554.5,160 L556.2,158.3 L562.2,155.7 L572.5,154.9 L579.4,150.6 L583.7,145.4 L582,139.4 L584.6,135.1 L592.5,126 L600,123 L607.5,121 L625,116 L630,112.5 L632,105 L635,93.7 L636,82.5 L638.7,76 L647.5,75 L650,73 L655,75 L658,84 L661,93.7 L666,98.7 L672.5,106 L667.5,112.5 L662,116 L657.5,120 L650,127.5 L645,135 L642.9,140 L641.4,147.1 L644.3,150 L642.9,154.3 L646.4,160 L650,159.3 L653.5,160 L655,157 L652.3,153.8 L655.5,155.5 L656.4,164.3 L651.4,164.3 L647.1,165.7 L642.9,163.6 L640,165 L637.9,167.9 L634.3,169.3 L628.6,172.1 L622.9,175.7 L617.9,179.3 L615,183.6 L614.3,187.1 L617.1,189.3 L618.2,195 L617.3,199 L615.7,203.3 L613.5,207.5 L611.6,210.8 L609.5,209.5 L607.3,207 L605.8,204.3 L605.2,206.5 L606.3,209.5 L608,212 L610,213.5 L611.6,214.5 L611,218 L610.7,223.3 L609.5,228.5 L608.2,233.2 L607,237.5 L606.5,241.8 L605.8,236.5 L603.2,233 L603.8,229.5 L601.2,226.5 L601.3,222.5 L598.8,219.5 L599,215 L597,212.5 L596.8,208.8 L595.2,207.2 L593.6,210.5 L595.2,213.5 L594.6,217 L596.8,220 L596.6,224 L599,227 L599,231 L601.4,234 L601.6,238 L603.6,240.5 L604.3,243.5 L605.7,244.5 L607.5,247.5 L609.1,250 L610.7,253.2 L612.5,256.5 L614.1,259.3 L616.6,263.2 L615.5,265.7 L614.1,267.3 L612,270 L609.1,272.3 L605.7,276.5 L600.8,278.1 L596.6,281.5 L594.9,285 L592.5,292.5 L588,295 L582.5,297.5 L578.7,302 L575,307.5 L570,312 L565,317.5 L560,327.5 L557.5,334 L556,340 L556,350 L557.5,350.5 L558.5,355 L560.5,358.5 L562.5,360.8 L566,366 L569.9,371.4 L572.5,376 L575.5,380.7 L578,385.5 L581,389.9 L583,394.5 L584.7,399.1 L585.6,404 L586,408.4 L586,413 L585.6,417.6 L584.5,421 L582.8,423.4 L581,425.2 L579.1,426 L577,425.8 L575.5,425 L572.7,421.3 L570.5,419 L568.1,416.7 L565.5,414 L563.4,411.2 L561.5,408.5 L559.7,405.6 L557.5,403 L555.1,401 L554.5,398 L554.2,395.5 L552,393.5 L549.6,391.8 L550.6,389.5 L548.5,388.5 L547.7,386.2 L546.5,384 L545.9,381.6 L545.3,377.5 L545,373.3 L543.5,371 L541.3,369.8 L536.6,365.9 L533,362.5 L530.2,360.5 L527,360 L523.7,360.3 L521.3,360.8 L517.5,364.5 L514.4,366.7 L509.2,364.9 L503,361.5 L498.9,358.9 L495,357.5 L488.6,357.4 L484,358.8 L480,360 L478.2,360.5 L477,357.5 L475.6,356.6 L474.3,359 L472.2,361.6 L468.5,361.5 L465.3,361 L461,362.3 L457.6,364.4 L456,367.5 L455,370.4 L458,373 L462.7,374.7 L464.5,379 L460.2,381.8 L457,379.2 L455,377.3 L451.6,376.4 L449.9,379.9 L447.5,381.2 L444.7,381.8 L440.5,381.2 L437,380 L434.5,377.7 L432.7,375.8 L429,373.4 L425.8,372.3 L424,374.3 L422.3,374.8 L416.6,374 L410.3,373.8 L402.8,373.8 L399,374.6 L396,375.9 L392,377.8 L390.8,375.2 L388.8,374.6 L387.2,377.5 L388.2,380.5 L385.5,383 L382.2,385.3 L378.5,387.3 L375.3,388.8 L372,391 L368.4,393.1 L365,396 L361.6,399.1 L359.3,402.5 L357.3,406 L356.2,409.5 L355.6,413 L356,418 L357.5,423 L359.5,425.5 L358,429 L356,429.7 L350,428 L345,426 L338,421 L332.5,416 L330,412.5 L328,406 L325,400 L320,392 L315,385 L310,378 L305,372.5 L298,370.5 L291,370 L286.5,376 L282.5,380 L277.5,376 L271,370 L266,366 L264.5,361 L260.8,356 L256.5,350.5 L252.2,345.6 L249,341 L246.2,337.9 L243.6,333.6 L223.8,335.3 L223,340.5 L212.5,338.5 L195,336.7 L188.5,335.8 L174.7,328.9 L157.5,318.6 L143.8,310 L137,307.8 L131.7,306.6 L126,305.6 L121.4,304.9 L118,302.3 L117.6,299 L117.1,296.3 L115.5,292.5 L113.7,289.4 L110,285.5 L106.8,282.5 L104.2,278.2 L101,275 L98.2,272.2 L95,270.5 L92.2,269.6 L88,268 L84.5,266.2 L83,263 L82.7,260.2 L84.1,258.2 L83.5,254 L82.5,249.9 L80.5,246 L78.3,241.6 L76.5,237 L75,232.4 L75.8,228.5 L76.6,224.9 L73.3,220.8 L75,216.6 L74.1,210.8 L72,209.5 L70,207.4 L69.5,204 L69.1,200 L67.5,196 L65.8,191.6 L66.6,185 L65.8,175 L65.3,172.5 L67.5,166 L70,160 L71.5,155 L72,150 L72.2,145 L72.5,140 L74,136 L75,132.5 L78.5,128.5 L81.2,125 L83.5,120 L85,115 L87.5,108.5 L90,102.5 L91.5,98 L93,93.7 L94.5,90 L95,86.2 L96,82 L97,77.5 L95.5,72.5 L94.5,67.5 L95,62Z" fill="none" stroke="#575757" stroke-width=".85" stroke-linejoin="round"/>
<path d="M615.7,183.6 L618,181.7 L622.9,178.6 L628.6,175 L634.3,172.1 L636.4,173.6 L631.4,177.9 L624.3,182.9 L618.6,185 L615,185.7Z" fill="none" stroke="#5a5a5a" stroke-width=".6" stroke-linejoin="round"/>
<path d="M114.8,62.5 L116.3,65.5 L117.6,69 L116.3,72 L114,74 L111.5,76 L109,78.5 L107,80.3" fill="none" stroke="#524e58" stroke-width="1.9" stroke-linejoin="round" stroke-linecap="round"/>
<path d="M113.5,70.5 L111,73.5 L108.5,76.5" fill="none" stroke="#524e58" stroke-width="1.4" stroke-linejoin="round" stroke-linecap="round"/>
<path d="M117.8,61 L118.2,65 L117.8,68.5" fill="none" stroke="#524e58" stroke-width="1.0" stroke-linejoin="round" stroke-linecap="round"/>
<path d="M110.5,77.5 L112.5,79.5 L111,81" fill="none" stroke="#524e58" stroke-width="0.9" stroke-linejoin="round" stroke-linecap="round"/>
<path d="M112.5,62 L114.5,61.5 L116.3,63.5 L118.3,66 L118.6,69.5 L117.3,72.5 L115,74.5 L113.5,73 L115.3,70.5 L116,67.5 L114.5,65Z" fill="#55515b" stroke="#524e58" stroke-width=".4"/>
<path d="M108.2,73.8 L110.6,72.3 L112.6,73 L111.3,75.6 L109.3,77.8 L107.4,79.2 L106.4,77.6Z" fill="#55515b" stroke="#524e58" stroke-width=".4"/>
<path d="M111,57.2 L113,56.3 L115,57 L117,56.5 L117.7,59 L116.5,61.5 L114.5,62.3 L112.8,61 L111.5,59.5Z" fill="#55515b" stroke="#524e58" stroke-width=".4"/>
<path d="M105.8,78.5 L108,77.5 L110,79 L108.5,80.8 L106.5,80.5Z" fill="#55515b" stroke="#524e58" stroke-width=".4"/>
<path d="M607,265.6 L611.5,264.8 L614,266.2 L612.5,269 L609.5,271 L606.5,270 L605.8,267.5Z" fill="#fff" stroke="#55515b" stroke-width=".7" stroke-linejoin="round"/>
<path d="M603.3,255.7 L609.5,255.2 L610.7,257.2 L607,258.4 L603.6,257.9Z" fill="#fff" stroke="#55515b" stroke-width=".7" stroke-linejoin="round"/>
<path d="M586.6,219.9 L588.5,219.6 L590,221.8 L592,221.6 L593.3,223.6 L595.3,224.3 L596.2,226.3 L598.2,227.2" fill="none" stroke="#55515b" stroke-width="1.0" stroke-linejoin="round" stroke-linecap="round"/>
<path d="M589.1,229.1 L591,228.8 L592.6,231 L594.8,230.8 L596.5,232.8 L598.6,232.6 L600.6,234.3" fill="none" stroke="#55515b" stroke-width="0.9" stroke-linejoin="round" stroke-linecap="round"/>
<path d="M591.6,234.1 L593.6,233.9 L595.5,236.2 L597.6,235.9 L599.4,237.8 L601.8,238.3" fill="none" stroke="#55515b" stroke-width="0.9" stroke-linejoin="round" stroke-linecap="round"/>
<path d="M590.8,239.9 L592.6,241.3 L594.6,240.5 L596.2,242.2 L598.4,241.3 L600.4,243 L602.4,242.6 L604.1,243.9" fill="none" stroke="#55515b" stroke-width="1.0" stroke-linejoin="round" stroke-linecap="round"/>
<path d="M593.3,210.8 L594.5,207.5 L597.4,205" fill="none" stroke="#55515b" stroke-width="0.9" stroke-linejoin="round" stroke-linecap="round"/>
<path d="M597.5,213 L600,214 L602,212.5" fill="none" stroke="#55515b" stroke-width="0.8" stroke-linejoin="round" stroke-linecap="round"/>
<path d="M599,218.5 L601.5,219 L603.5,217.5" fill="none" stroke="#55515b" stroke-width="0.8" stroke-linejoin="round" stroke-linecap="round"/>
<path d="M601,224.5 L603.5,224.5 L605,223" fill="none" stroke="#55515b" stroke-width="0.8" stroke-linejoin="round" stroke-linecap="round"/>
<path d="M603,230 L605,229.5 L606.5,228" fill="none" stroke="#55515b" stroke-width="0.8" stroke-linejoin="round" stroke-linecap="round"/>
<path d="M594.5,214.5 L592.5,215 L591,213.5" fill="none" stroke="#55515b" stroke-width="0.8" stroke-linejoin="round" stroke-linecap="round"/>
<path d="M596,220.5 L594,221.5" fill="none" stroke="#55515b" stroke-width="0.8" stroke-linejoin="round" stroke-linecap="round"/>
<path d="M598,256.5 L601,256 L603.5,256.8" fill="none" stroke="#55515b" stroke-width="0.8" stroke-linejoin="round" stroke-linecap="round"/>
<path d="M599,266 L602.5,267 L606,267.8" fill="none" stroke="#55515b" stroke-width="0.8" stroke-linejoin="round" stroke-linecap="round"/>
<path d="M600,272 L603,272.5 L606,271" fill="none" stroke="#55515b" stroke-width="0.8" stroke-linejoin="round" stroke-linecap="round"/>
<path d="M662,116 L660,118.5 L658.5,117.5 L657,120.5 L655,120 L654,123.5 L652,123 L650.5,126.5 L649,128.5 L647.5,128 L646.5,131.5 L645.3,134.5" fill="none" stroke="#55515b" stroke-width="0.9" stroke-linejoin="round" stroke-linecap="round"/>
<path d="M666,113.5 L664,115.5 L663.5,113.5" fill="none" stroke="#55515b" stroke-width="0.8" stroke-linejoin="round" stroke-linecap="round"/>
<path d="M575,307.5 L573,309 L572.3,311.3 L570,312 L569,314.5 L566.5,315.5 L565.5,318 L563,319.5 L562.5,322.5 L560.5,324 L560,327.5 L558.3,329.5 L558.3,333 L557,335 L557.3,338.5 L556,341" fill="none" stroke="#55515b" stroke-width="0.8" stroke-linejoin="round" stroke-linecap="round"/>
<path d="M556.3,346 L557.3,349 L556.5,352 L558,355 L558.5,358.5" fill="none" stroke="#55515b" stroke-width="0.8" stroke-linejoin="round" stroke-linecap="round"/>
<path d="M432.7,375.8 L434.8,378 L437,380 L440.5,381.2 L444.7,381.8 L447.5,381.2 L449.9,380" fill="none" stroke="#55515b" stroke-width="1.5" stroke-linejoin="round" stroke-linecap="round"/>
<path d="M455,370.5 L456.7,373.3 L455.2,375.8 L457.5,378.2 L460.2,381.6" fill="none" stroke="#55515b" stroke-width="1.2" stroke-linejoin="round" stroke-linecap="round"/>
<path d="M459.5,371.8 L462.7,374.7 L464.3,378.8 L461.5,381.3" fill="none" stroke="#55515b" stroke-width="1.2" stroke-linejoin="round" stroke-linecap="round"/>
<path d="M455.6,366.8 L458,364.7 L461.5,364.2 L464,365.6 L463.5,368.5 L460.5,370.3 L457.2,369.8 L455.6,366.8" fill="none" stroke="#55515b" stroke-width="1.0" stroke-linejoin="round" stroke-linecap="round"/>
<path d="M425.5,372.3 L427.3,374.8 L429.5,373.5" fill="none" stroke="#55515b" stroke-width="0.9" stroke-linejoin="round" stroke-linecap="round"/>
<path d="M465.3,361 L468.5,361.8 L472.2,361.7" fill="none" stroke="#55515b" stroke-width="1.0" stroke-linejoin="round" stroke-linecap="round"/>
<path d="M484,358.6 L488.6,357.4 L493,358 L496.3,357.6 L500.5,358.8 L504.9,358.6" fill="none" stroke="#55515b" stroke-width="1.0" stroke-linejoin="round" stroke-linecap="round"/>
<path d="M370.5,391.5 L372.5,393 L371,395" fill="none" stroke="#55515b" stroke-width="0.8" stroke-linejoin="round" stroke-linecap="round"/>
<path d="M362,399 L364,401 L362.5,403" fill="none" stroke="#55515b" stroke-width="0.8" stroke-linejoin="round" stroke-linecap="round"/>
<path d="M357.5,407.5 L359.5,410.5 L358,414 L359.5,418 L358.5,422" fill="none" stroke="#55515b" stroke-width="0.8" stroke-linejoin="round" stroke-linecap="round"/>
<path d="M547.5,385 L549.5,387.5 L548.5,390.5" fill="none" stroke="#55515b" stroke-width="0.8" stroke-linejoin="round" stroke-linecap="round"/>
<path d="M550.5,395.5 L553,397.5 L552.5,400.5" fill="none" stroke="#55515b" stroke-width="0.8" stroke-linejoin="round" stroke-linecap="round"/>
<path d="M585.5,407.5 L584.5,411 L585.5,414.5" fill="none" stroke="#55515b" stroke-width="0.8" stroke-linejoin="round" stroke-linecap="round"/>
<path d="M443.7,103.9 L446.5,102.2 L449.7,100.5" fill="none" stroke="#55515b" stroke-width="1.2" stroke-linejoin="round" stroke-linecap="round"/>
<path d="M428.5,117 L430.5,115.8 L431.5,117.3" fill="none" stroke="#55515b" stroke-width="0.9" stroke-linejoin="round" stroke-linecap="round"/>
<path d="M516,178 L517.3,180 L516,182" fill="none" stroke="#55515b" stroke-width="1.0" stroke-linejoin="round" stroke-linecap="round"/>
<path d="M498,125.5 L500,126.8 L502.5,126.3" fill="none" stroke="#55515b" stroke-width="1.0" stroke-linejoin="round" stroke-linecap="round"/>
<path d="M72.5,211 L75.5,209 L77.5,210.5 L79.5,208.5 L82,209.5 L84.5,208 L86.6,211.5" fill="none" stroke="#55515b" stroke-width="1.0" stroke-linejoin="round" stroke-linecap="round"/>
<path d="M74.5,212 L76,215 L75.5,218" fill="none" stroke="#55515b" stroke-width="0.9" stroke-linejoin="round" stroke-linecap="round"/>
<path d="M66.5,210 L67.5,211.5" fill="none" stroke="#55515b" stroke-width="0.8" stroke-linejoin="round" stroke-linecap="round"/>
<path d="M83,272.5 L86,273.5 L89,273.8 L92,275 L95.5,276.3" fill="none" stroke="#55515b" stroke-width="1.2" stroke-linejoin="round" stroke-linecap="round"/>
<path d="M90,286.5 L91,287.3" fill="none" stroke="#55515b" stroke-width="1.0" stroke-linejoin="round" stroke-linecap="round"/>
<path d="M96.8,284.6 L97.8,285.6" fill="none" stroke="#55515b" stroke-width="1.0" stroke-linejoin="round" stroke-linecap="round"/>
<path d="M102.6,285.6 L104,287.8" fill="none" stroke="#55515b" stroke-width="1.4" stroke-linejoin="round" stroke-linecap="round"/>
<path d="M100.2,291.5 L101.5,295" fill="none" stroke="#55515b" stroke-width="1.2" stroke-linejoin="round" stroke-linecap="round"/>
<path d="M641.5,164.5 L643.3,166 L645.5,165.3" fill="none" stroke="#55515b" stroke-width="0.8" stroke-linejoin="round" stroke-linecap="round"/>
<path d="M650,167.5 L652.5,167.8" fill="none" stroke="#55515b" stroke-width="0.9" stroke-linejoin="round" stroke-linecap="round"/>
<path d="M655.5,167 L657.5,167.3" fill="none" stroke="#55515b" stroke-width="0.9" stroke-linejoin="round" stroke-linecap="round"/>
<path d="M585,421.5 C584.7,422.2 583.9,424.2 583,425.5 C582.1,426.8 580.8,428 579.5,429 C578.2,430 576.7,430.8 575,431.5 C573.3,432.2 571.4,432.9 569.5,433.5 C567.6,434.1 565.6,434.6 563.5,435 C561.4,435.4 558.9,435.8 557,436 C555.1,436.2 552.8,436.3 552,436.4" fill="none" stroke="#55515b" stroke-width="1" stroke-dasharray="0.9 2.1" stroke-linecap="round"/>
<g clip-path="url(#ak)">
<rect x="80" y="350" width="260" height="191" fill="#959595"/>
<path d="M130,376 C132,379.1 147.4,380.8 150,381.5 C152.6,382.2 154.7,382.5 156.1,382.8 C157.5,383.1 161.7,384.2 163.8,384.8 C165.9,385.4 174.2,387.9 176.8,388.7 C179.4,389.5 187.8,392.2 189.7,392.8 C191.6,393.4 194,394.5 195.9,395.2 C197.8,395.9 206.2,398.9 208.8,399.8 C211.4,400.7 219.2,403.3 221.8,404.3 C224.4,405.3 232.7,409.2 234.7,410.1 C236.7,411 239.7,412.5 241.8,413.4 C243.9,414.3 254.6,425.8 256,419.5 C257.4,413.2 268.6,356.9 256,350 C243.4,343.1 142.6,347.4 130,350 C117.4,352.6 128,372.9 130,376Z" fill="#b4d9ab" stroke="#6f6d6b" stroke-width="1"/>
<path d="M128,424 C142,423 137.6,420.4 139.9,419.7 C142.2,419 148.8,417 150.9,416.7 C153,416.4 159.3,416.2 161.2,416.3 C163.1,416.4 168.1,417.2 170.3,417.8 C172.5,418.4 180.3,421.1 182.9,422.3 C185.5,423.5 193.4,427.8 195.9,429.5 C198.4,431.2 205.3,437.6 207.5,439.6 C209.7,441.7 215.7,447.9 217.8,450 C219.9,452.1 226.5,458.7 228.1,460.2 C229.7,461.7 231.8,463.7 233.3,465.3 C234.8,466.9 242,468 243,476 C244,484 267.3,538.1 243,545 C218.7,551.9 24.3,556.5 0,545 C-24.3,533.5 -12.8,442.1 0,430 C12.8,417.9 114,425 128,424Z" fill="#f1d594" stroke="#6f6d6b" stroke-width="1"/>
<path d="M125,446 C139.4,445.2 141.5,442.6 143.9,442 C146.3,441.4 147.5,440 149.1,439.6 C150.7,439.2 157.3,438.3 159.4,438.5 C161.5,438.7 167.5,440.7 169.7,441.8 C171.9,442.9 179.3,448 181.7,449.7 C184.1,451.4 191.9,457.6 193.8,459.2 C195.7,460.8 199.7,464.9 200.6,466 C201.5,467.1 202.7,468.2 203,470 C203.3,471.8 203,482 203.3,484 C203.6,486 205.7,483.9 206,490 C206.3,496.1 226.6,539.5 206,545 C185.4,550.5 20.6,554.5 0,545 C-20.6,535.5 -12.5,459.9 0,450 C12.5,440.1 110.6,446.8 125,446Z" fill="#d9a650" stroke="#6f6d6b" stroke-width="1"/>
<path d="M278,461 L273.3,477.5 L280,492 L300,516 L335,516 L335,470 L300,452Z" fill="#b4d9ab" stroke="#6f6d6b" stroke-width=".7"/>
</g>
<path d="M148.3,382.8 L152,383 L156.1,382.8 L159.3,380.9 L160.6,376.4 L163.8,372.5 L169,371.2 L174.2,367.9 L179.4,366 L183.3,362.8 L185.8,365.4 L189.7,367.3 L194.9,367.9 L200.1,370.5 L205,370.5 L210,369.8 L215,370.5 L221,371 L227.5,372.5 L231,374 L236.3,374.3 L241.8,413.4 L250,440 L253.4,465.6 L256.8,463.9 L262,462.2 L263.7,465.6 L269.7,469.1 L274.9,470.8 L276.6,469.1 L278.3,464.8 L282.6,463.1 L288.6,466.5 L293.8,470.8 L298.9,475.9 L305.8,482 L314.4,488 L320.4,491.4 L323,496.6 L321.3,501.7 L314.4,505.2 L307.5,506.9 L300.6,500 L293.8,493.1 L286.9,487.1 L280,479.4 L274,475.9 L268,472.5 L261.1,469.1 L257,467.5 L252.5,466 L245,467.7 L238.5,470.3 L235,466.9 L228.1,464.3 L221.3,461.7 L216.1,464.3 L217.8,468.6 L214.4,472.9 L210,476.4 L207.5,478.9 L203.1,481.5 L202.3,478.9 L204,472.1 L207.4,462.6 L204.9,460 L201.4,465.2 L198.9,472.1 L195.4,478.9 L191.1,485.8 L186,492.7 L179.1,499.6 L172.2,504.7 L165.3,509 L157.6,514.2 L156.7,511.6 L160.2,507.3 L167.9,501.3 L173.1,496.1 L175.6,489.3 L175.6,483.2 L168.8,482.4 L165.3,486.7 L159.3,482.4 L152.4,484.1 L153.3,478.1 L149.9,472.9 L143,470.3 L138.7,465.2 L136.1,456.6 L137,448 L140.5,444.5 L143.9,442 L146.5,439.4 L154.2,437.7 L161.1,436.8 L163.7,429.1 L162,423.9 L155.1,423.9 L154.2,425.6 L147.3,424.8 L141.3,421.3 L139.9,418.4 L137.9,415.8 L134.7,412 L137.9,410.7 L144.4,408.1 L151.5,406.1 L153.2,408.5 L154.8,411.5 L162.2,410.9 L162.8,406.8 L160,402.9 L156.7,403.5 L154.1,399 L150.9,393.8 L147.7,389.3 L145.1,386.7Z" fill="none" stroke="#5a5a5a" stroke-width=".7" stroke-linejoin="round"/>
<path d="M200.6,487.5 L201.4,494.4 L196.3,501.3 L189.4,507.3 L187.3,503 L188.5,497 L193.7,492.7 L197.1,488.4Z" fill="none" stroke="#5a5a5a" stroke-width=".7" stroke-linejoin="round"/>
<path d="M115,426.5 L119,427.5 L122,430 L126,432 L127.5,435 L124,434.5 L120.5,432 L116,430Z" fill="none" stroke="#5a5a5a" stroke-width=".7" stroke-linejoin="round"/>
<path d="M126.6,466 L130,464.3 L134,464.8 L135.2,467.5 L132.5,470.3 L128.5,469.5Z" fill="none" stroke="#5a5a5a" stroke-width=".7" stroke-linejoin="round"/>
<path d="M143.8,514.5 L148,511.5 L153,510.7 L155.9,512.5 L151,515.5 L146,517.6Z" fill="none" stroke="#5a5a5a" stroke-width=".7" stroke-linejoin="round"/>
<path d="M129.2,521.5 L133,518.5 L138,517.6 L141.3,519 L137,521.8 L132,523.6Z" fill="none" stroke="#5a5a5a" stroke-width=".7" stroke-linejoin="round"/>
<path d="M115.5,527.5 L118.5,525.6 L122.3,525.4 L121,527.6 L117.5,528.8Z" fill="none" stroke="#5a5a5a" stroke-width=".7" stroke-linejoin="round"/>
<path d="M101.7,532.5 L105,529.5 L109,527.3 L112,527.1 L110,530 L106,532.6 L103,534Z" fill="none" stroke="#5a5a5a" stroke-width=".7" stroke-linejoin="round"/>
<path d="M123.5,524.2 L126.5,523 L128,524 L125.5,525.5Z" fill="none" stroke="#5a5a5a" stroke-width=".7" stroke-linejoin="round"/>
<path d="M141.8,518.6 L143.3,517.4 L144.3,518.6 L142.8,519.6Z" fill="none" stroke="#5a5a5a" stroke-width=".7" stroke-linejoin="round"/>
<path d="M278.7,465.4 L280.5,466.5 L281.6,468.3 L282.2,469.3 L284.5,470" fill="none" stroke="#55515b" stroke-width="1.0" stroke-linejoin="round" stroke-linecap="round"/>
<path d="M282.7,464.4 L284.5,465.5 L286.9,468.6 L288.1,469.3 L290.5,471.5" fill="none" stroke="#55515b" stroke-width="1.1" stroke-linejoin="round" stroke-linecap="round"/>
<path d="M281.2,476.3 L282.6,477.3 L284.9,478.7 L286.4,480.9 L286.9,482.3 L288.9,485.3 L290.4,486.6 L293,488.3 L294.5,490.5" fill="none" stroke="#55515b" stroke-width="1.3" stroke-linejoin="round" stroke-linecap="round"/>
<path d="M286.1,473.2 L287,475.2 L289.8,477.4 L290.4,479.2 L292,480.5" fill="none" stroke="#55515b" stroke-width="1.2" stroke-linejoin="round" stroke-linecap="round"/>
<path d="M294.4,490.1 L296.8,492.9 L297.5,494.6 L299.8,496.9 L301.9,497.6 L304.1,499.1 L304.9,502 L306.1,503.2 L308.5,505" fill="none" stroke="#55515b" stroke-width="1.6" stroke-linejoin="round" stroke-linecap="round"/>
<path d="M296.2,486.8 L299.2,488.4 L301.2,489.7 L302.6,492.2 L304.1,493.9 L306.4,496.6 L307.5,497.8 L308.5,499.6 L311.3,501.9 L312.8,502.1 L313.5,504" fill="none" stroke="#55515b" stroke-width="1.5" stroke-linejoin="round" stroke-linecap="round"/>
<path d="M301.8,485.8 L302.9,487.4 L304.9,488.8 L306.5,491.7 L308.3,492.5 L310.6,495.4 L311.7,496.4 L314.3,498.9 L316.6,500.7 L316.6,501.1 L318,502.5" fill="none" stroke="#55515b" stroke-width="1.4" stroke-linejoin="round" stroke-linecap="round"/>
<path d="M306.2,486.7 L309.1,487.1 L309.4,489 L311.3,491 L313.7,492.1 L314.4,494.1 L316.8,496.1 L319.3,497.8 L320,499" fill="none" stroke="#55515b" stroke-width="1.2" stroke-linejoin="round" stroke-linecap="round"/>
<path d="M311,488.2 L313.3,488.7 L315.7,491.5 L317.7,493 L319,494" fill="none" stroke="#55515b" stroke-width="1.0" stroke-linejoin="round" stroke-linecap="round"/>
<path d="M298.8,481.8 L299.8,483.7 L302,485" fill="none" stroke="#55515b" stroke-width="1.0" stroke-linejoin="round" stroke-linecap="round"/>
<path d="M291.7,473.7 L293.7,475.6 L295.7,477.2 L296.6,478.9 L299,481" fill="none" stroke="#55515b" stroke-width="1.0" stroke-linejoin="round" stroke-linecap="round"/>
<path d="M304.3,505.3 L305.4,506.8 L307.7,506.1 L308.3,506.1 L310,506" fill="none" stroke="#55515b" stroke-width="1.1" stroke-linejoin="round" stroke-linecap="round"/>
<path d="M199,489 L196,493 L192,497 L189.5,501" fill="none" stroke="#55515b" stroke-width="1.0" stroke-linejoin="round" stroke-linecap="round"/>
<path d="M200.5,493 L197,497.5 L193,502 L190,505.5" fill="none" stroke="#55515b" stroke-width="0.9" stroke-linejoin="round" stroke-linecap="round"/>
<path d="M222,462.5 L224.5,465 L228,464 L231,466.5 L234,465.5" fill="none" stroke="#55515b" stroke-width="0.9" stroke-linejoin="round" stroke-linecap="round"/>
<path d="M226,466.5 L229,468 L232,468" fill="none" stroke="#55515b" stroke-width="0.8" stroke-linejoin="round" stroke-linecap="round"/>
<path d="M204,481 L207,480 L210,477.5 L213,475" fill="none" stroke="#55515b" stroke-width="0.8" stroke-linejoin="round" stroke-linecap="round"/>
<path d="M99,532.3 L102,531.3 L105,530.3 L107.3,529.8" fill="none" stroke="#55515b" stroke-width="1.3" stroke-linejoin="round" stroke-linecap="round"/>
<path d="M88.7,534 L92,533.3 L95.5,532.8 L98.3,532.3" fill="none" stroke="#55515b" stroke-width="1.2" stroke-linejoin="round" stroke-linecap="round"/>
<path d="M80,533.2 L82.5,533" fill="none" stroke="#55515b" stroke-width="1.1" stroke-linejoin="round" stroke-linecap="round"/>
<path d="M69,530.5 L72,531.8 L75,532.6 L77.5,533.3" fill="none" stroke="#55515b" stroke-width="1.3" stroke-linejoin="round" stroke-linecap="round"/>
<path d="M57,528.5 L60,529.3 L63,530 L66.5,530.3" fill="none" stroke="#55515b" stroke-width="1.4" stroke-linejoin="round" stroke-linecap="round"/>
<path d="M46.5,526.3 L49.5,527.3 L52.5,528 L55,528.6" fill="none" stroke="#55515b" stroke-width="1.2" stroke-linejoin="round" stroke-linecap="round"/>
<path d="M40.3,526.2 L42,527.7 L44.5,529" fill="none" stroke="#55515b" stroke-width="1.2" stroke-linejoin="round" stroke-linecap="round"/>
<path d="M28,520 L30.5,521.8 L32.5,523.6 L34.6,524.6" fill="none" stroke="#55515b" stroke-width="1.1" stroke-linejoin="round" stroke-linecap="round"/>
<path d="M21.2,514.3 L23.5,515.5 L25.8,516.8" fill="none" stroke="#55515b" stroke-width="1.0" stroke-linejoin="round" stroke-linecap="round"/>
<path d="M15.2,507.3 L17.3,508.8" fill="none" stroke="#55515b" stroke-width="1.0" stroke-linejoin="round" stroke-linecap="round"/>
<path d="M2.2,494.3 L3.6,495.6" fill="none" stroke="#55515b" stroke-width="1.3" stroke-linejoin="round" stroke-linecap="round"/>
<path d="M3.8,500 L5.3,501.3" fill="none" stroke="#55515b" stroke-width="1.2" stroke-linejoin="round" stroke-linecap="round"/>
<path d="M6.8,502 L7.8,503" fill="none" stroke="#55515b" stroke-width="1.0" stroke-linejoin="round" stroke-linecap="round"/>
<path d="M105.8,490.6 L106.8,491.4" fill="none" stroke="#55515b" stroke-width="1.0" stroke-linejoin="round" stroke-linecap="round"/>
<path d="M107.2,496.8 L108.2,497.5" fill="none" stroke="#55515b" stroke-width="1.0" stroke-linejoin="round" stroke-linecap="round"/>
<path d="M100.6,454.7 L101.4,456 L102.4,457.2" fill="none" stroke="#55515b" stroke-width="1.1" stroke-linejoin="round" stroke-linecap="round"/>
<path d="M157.5,514.5 L159,516 L161.5,516.3" fill="none" stroke="#55515b" stroke-width="0.9" stroke-linejoin="round" stroke-linecap="round"/>
<path d="M151,517.5 L153,518.5" fill="none" stroke="#55515b" stroke-width="0.9" stroke-linejoin="round" stroke-linecap="round"/>
<path d="M162,513 L163.8,514.3" fill="none" stroke="#55515b" stroke-width="0.9" stroke-linejoin="round" stroke-linecap="round"/>
<path d="M170,505.5 L171.5,507" fill="none" stroke="#55515b" stroke-width="0.8" stroke-linejoin="round" stroke-linecap="round"/>
<path d="M181.5,500.5 L183.5,500 L185,501.5" fill="none" stroke="#55515b" stroke-width="0.8" stroke-linejoin="round" stroke-linecap="round"/>
<path d="M196,507 L197.5,508" fill="none" stroke="#55515b" stroke-width="0.8" stroke-linejoin="round" stroke-linecap="round"/>
<text class="lb" x="134" y="88.5">Above</text>
<text class="lb2" x="134" y="88.5">Above</text>
<text class="lb" x="318.5" y="127.5">Above</text>
<text class="lb2" x="318.5" y="127.5">Above</text>
<text class="lb" x="446.5" y="139.5">Below</text>
<text class="lb2" x="446.5" y="139.5">Below</text>
<text class="lb" x="390.7" y="189">Near</text>
<text class="lb2" x="390.7" y="189">Near</text>
<text class="lb" x="390.5" y="207.5">Normal</text>
<text class="lb2" x="390.5" y="207.5">Normal</text>
<text class="lb" x="160.5" y="290.4">Near</text>
<text class="lb2" x="160.5" y="290.4">Near</text>
<text class="lb" x="160" y="309">Normal</text>
<text class="lb2" x="160" y="309">Normal</text>
<text class="lb" x="304.8" y="325.6">Below</text>
<text class="lb2" x="304.8" y="325.6">Below</text>
<text class="la" x="209.6" y="389.4">Above</text>
<text class="la2" x="209.6" y="389.4">Above</text>
<text class="la" x="213.7" y="420.2">Near</text>
<text class="la2" x="213.7" y="420.2">Near</text>
<text class="la" x="213.7" y="434.7">Normal</text>
<text class="la2" x="213.7" y="434.7">Normal</text>
<text class="la" x="160.3" y="461.4">Below</text>
<text class="la2" x="160.3" y="461.4">Below</text>
<text class="la" x="297.2" y="485.7">Above</text>
<text class="la2" x="297.2" y="485.7">Above</text>
<text x="349.7" y="30.2" font-size="31.8" text-anchor="middle" fill="#000">6-10 Day Precipitation Outlook</text>
<text x="246.6" y="56.3" font-size="14.1" fill="#000"><tspan font-weight="bold">Valid:</tspan><tspan x="292">May 16 - 20, 2022</tspan></text>
<text x="246.6" y="71.9" font-size="14.1" fill="#000"><tspan font-weight="bold">Issued:</tspan><tspan x="303.5">May 10, 2022</tspan></text>
<g fill="#000">
<text x="466.9" y="416.4" font-weight="bold" font-size="11.7" text-anchor="middle">Probability (Percent Chance)</text>
<text x="411.9" y="431.2" font-weight="bold" font-size="8.75" text-anchor="middle">Above Normal</text>
<text x="522.2" y="431.2" font-weight="bold" font-size="8.75" text-anchor="middle">Below Normal</text>
<text x="466.5" y="470.5" font-weight="bold" font-size="8.75" text-anchor="middle">Near</text>
<text x="466.4" y="481" font-weight="bold" font-size="8.75" text-anchor="middle">Normal</text>
<rect x="456.4" y="490.3" width="20.2" height="8.8" fill="#a5a5a5" stroke="#8e8e8e" stroke-width=".8"/>
<rect x="382.2" y="440.3" width="20" height="8.7" fill="#b3d9ab" stroke="#9a9a9a" stroke-width=".8"/>
<rect x="531.6" y="440.3" width="20" height="8.7" fill="#f0d493" stroke="#9a9a9a" stroke-width=".8"/>
<text x="407.6" y="447.7" font-size="8.2" fill="#222">33-40%</text>
<text x="526.6" y="447.7" font-size="8.2" fill="#222" text-anchor="end">33-40%</text>
<rect x="382.2" y="454.6" width="20" height="8.7" fill="#94cd7e" stroke="#9a9a9a" stroke-width=".8"/>
<rect x="531.6" y="454.6" width="20" height="8.7" fill="#d8a750" stroke="#9a9a9a" stroke-width=".8"/>
<text x="407.6" y="462" font-size="8.2" fill="#222">40-50%</text>
<text x="526.6" y="462" font-size="8.2" fill="#222" text-anchor="end">40-50%</text>
<rect x="382.2" y="468.9" width="20" height="8.7" fill="#48ae38" stroke="#9a9a9a" stroke-width=".8"/>
<rect x="531.6" y="468.9" width="20" height="8.7" fill="#bb6d33" stroke="#9a9a9a" stroke-width=".8"/>
<text x="407.6" y="476.3" font-size="8.2" fill="#222">50-60%</text>
<text x="526.6" y="476.3" font-size="8.2" fill="#222" text-anchor="end">50-60%</text>
<rect x="382.2" y="483.2" width="20" height="8.7" fill="#3a7b5f" stroke="#9a9a9a" stroke-width=".8"/>
<rect x="531.6" y="483.2" width="20" height="8.7" fill="#9b5031" stroke="#9a9a9a" stroke-width=".8"/>
<text x="407.6" y="490.5" font-size="8.2" fill="#222">60-70%</text>
<text x="526.6" y="490.5" font-size="8.2" fill="#222" text-anchor="end">60-70%</text>
<rect x="382.2" y="497.5" width="20" height="8.7" fill="#008e40" stroke="#9a9a9a" stroke-width=".8"/>
<rect x="531.6" y="497.5" width="20" height="8.7" fill="#934639" stroke="#9a9a9a" stroke-width=".8"/>
<text x="407.6" y="504.8" font-size="8.2" fill="#222">70-80%</text>
<text x="526.6" y="504.8" font-size="8.2" fill="#222" text-anchor="end">70-80%</text>
<rect x="382.2" y="511.8" width="20" height="8.7" fill="#28553d" stroke="#9a9a9a" stroke-width=".8"/>
<rect x="531.6" y="511.8" width="20" height="8.7" fill="#804000" stroke="#9a9a9a" stroke-width=".8"/>
<text x="407.6" y="519.1" font-size="8.2" fill="#222">80-90%</text>
<text x="526.6" y="519.1" font-size="8.2" fill="#222" text-anchor="end">80-90%</text>
<rect x="382.2" y="526" width="20" height="8.7" fill="#285517" stroke="#9a9a9a" stroke-width=".8"/>
<rect x="531.6" y="526" width="20" height="8.7" fill="#4f2f2f" stroke="#9a9a9a" stroke-width=".8"/>
<text x="407.6" y="533.4" font-size="8.2" fill="#222">90-100%</text>
<text x="526.6" y="533.4" font-size="8.2" fill="#222" text-anchor="end">90-100%</text>
<path d="M379.4,439.7 C372.7,439.7 371.3,443.5 371.3,448.2 L371.3,448.6 C371.3,450.8 366.8,451.8 364.6,452 C366.8,452.2 371.3,453.2 371.3,455.4 L371.3,455.8 C371.3,460.5 372.7,464.3 379.4,464.3" fill="none" stroke="#222" stroke-width=".75"/>
<path d="M379.4,469.3 C372.4,469.3 370.9,473.1 370.9,477.8 L370.9,496.6 C370.9,500.2 366.2,501.8 363.9,502.1 C366.2,502.4 370.9,504 370.9,507.6 L370.9,526.4 C370.9,531.1 372.4,534.9 379.4,534.9" fill="none" stroke="#222" stroke-width=".75"/>
<path d="M555.5,439.7 C561.2,439.7 562.4,443.5 562.4,448.2 L562.4,448.6 C562.4,450.8 566.2,451.8 568.1,452 C566.2,452.2 562.4,453.2 562.4,455.4 L562.4,455.8 C562.4,460.5 561.2,464.3 555.5,464.3" fill="none" stroke="#222" stroke-width=".75"/>
<path d="M555.5,469.3 C561.4,469.3 562.8,473.1 562.8,477.8 L562.8,496.6 C562.8,500.2 566.7,501.8 568.7,502.1 C566.7,502.4 562.8,504 562.8,507.6 L562.8,526.4 C562.8,531.1 561.4,534.9 555.5,534.9" fill="none" stroke="#222" stroke-width=".75"/>
<text x="343.9" y="449.1" font-size="10.45" text-anchor="middle" fill="#111">Leaning</text>
<text x="343.9" y="460.6" font-size="10.45" text-anchor="middle" fill="#111">Above</text>
<text x="343.9" y="499.1" font-size="10.45" text-anchor="middle" fill="#111">Likely</text>
<text x="343.9" y="510.6" font-size="10.45" text-anchor="middle" fill="#111">Above</text>
<text x="591.8" y="449.1" font-size="10.45" text-anchor="middle" fill="#111">Leaning</text>
<text x="591.8" y="460.6" font-size="10.45" text-anchor="middle" fill="#111">Below</text>
<text x="591.8" y="499.1" font-size="10.45" text-anchor="middle" fill="#111">Likely</text>
<text x="591.8" y="510.6" font-size="10.45" text-anchor="middle" fill="#111">Below</text>
</g>

<g id="doc">
<circle cx="67.3" cy="22.3" r="17.7" fill="#fff" stroke="#1c86c8" stroke-width="4.6"/>
<circle cx="67.3" cy="22.3" r="17.7" fill="none" stroke="#9fd0ee" stroke-width="1.5" stroke-dasharray="0.9 0.9"/>
<circle cx="67.3" cy="22.3" r="19.9" fill="none" stroke="#16679c" stroke-width=".6"/>
<circle cx="67.3" cy="22.3" r="15.4" fill="none" stroke="#16679c" stroke-width=".5"/>
<path d="M61.4,9.4 C63.6,11.2 65.6,13.4 66.4,15.6 L67.3,12.6 L68.3,15.6 C69.2,13.4 71,11.2 73.1,9.6 C73,13.2 71.6,17 69.2,18.8 L65.6,18.8 C63.2,17 61.6,13 61.4,9.4Z" fill="#33260f"/>
<path d="M65.4,17.6 h4 v1.6 h-4Z" fill="#4a3a1a"/>
<path d="M58.6,19.4 H75.2 V27.6 H58.6Z" fill="#2a86c8"/>
<path d="M58.6,27.4 H75.2 V30.5 C75.2,33.6 71.5,35.3 66.9,36.6 C62.3,35.3 58.6,33.6 58.6,30.5Z" fill="#efbb1e"/>
<path d="M58.6,19.4 H75.2 V30.5 C75.2,33.6 71.5,35.3 66.9,36.6 C62.3,35.3 58.6,33.6 58.6,30.5Z" fill="none" stroke="#1d4f7a" stroke-width=".5"/>
<path d="M58.6,27.5 H75.2 M66.9,27.5 V36.3" stroke="#3a3320" stroke-width=".7" fill="none"/>
<path d="M60.6,26 L62.4,23.2 L65.6,22 L67,20.4 L68.4,22 L71.6,23 L73.4,26Z" fill="#1f3556"/>
<path d="M61,26 H73.2" stroke="#e8f2fa" stroke-width=".6"/>
<path d="M64,23.6 L70.4,23.2" stroke="#dbe8f2" stroke-width=".5"/>
</g>
<g id="noaa">
<clipPath id="nc"><circle cx="633.3" cy="22.5" r="20"/></clipPath>
<g clip-path="url(#nc)">
<rect x="613" y="2" width="41" height="41" fill="#118bdb"/>
<path d="M612,16.6 C616.5,18.4 620.5,21.8 624,24.9 C627.3,27.6 630.4,28.6 633.5,27.7 C638,26.2 643.5,22.4 648,17.6 C650,15.4 651.8,13.2 653.6,11.4 L653.6,0 L612,0Z" fill="#fff"/>
<path d="M626.2,30.6 C631,30.2 636.5,28 641.6,25 C638,28 632.5,31.2 626.2,30.6Z" fill="#fff" stroke="#fff" stroke-width=".7"/>
<path d="M616.8,10.2 C619.2,11.6 620.8,13.8 622.3,16 C624.6,19.6 627.2,22.8 630.7,24.9 C632.2,25.8 633.6,26.1 635,25.6 C637.6,24.6 639.6,22.4 641.2,20.4 C643,18 644.4,16 645.6,14.3 C646.8,12.6 648,11 649.6,9.8 L653,0 L613,0Z" fill="#0c3c9e"/>
</g>
<text x="633.3" y="15.9" font-size="7.9" font-weight="bold" fill="#fff" text-anchor="middle" textLength="16.4" lengthAdjust="spacingAndGlyphs">NOAA</text>
</g>

</svg></body></html>
